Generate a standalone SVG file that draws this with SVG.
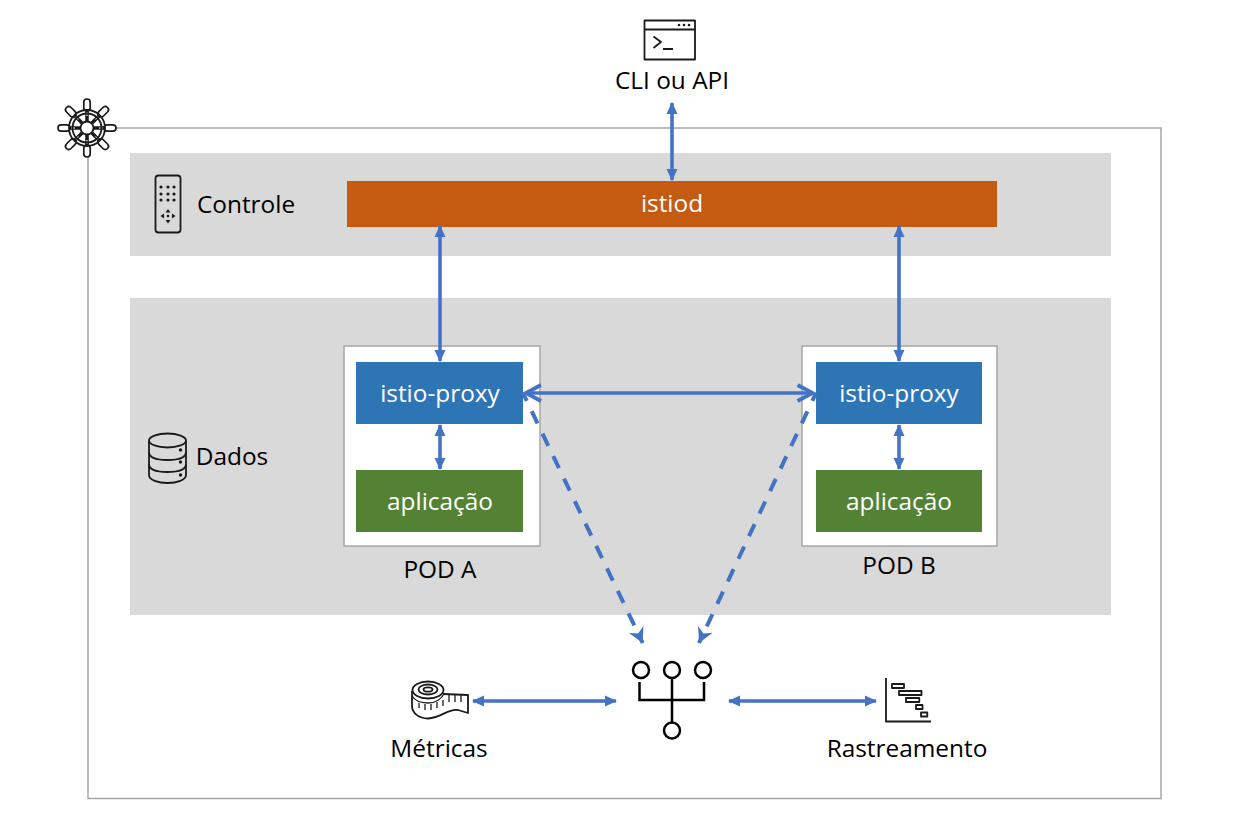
<svg xmlns="http://www.w3.org/2000/svg" width="1239" height="813" viewBox="0 0 1239 813">
<style>
text{font-family:"Open Sans","Noto Sans","Liberation Sans",sans-serif;font-size:24.400px;fill:#000;text-anchor:middle}
.w{fill:#fff}
.c{fill:none;stroke:#4472c4;stroke-width:3.600}
.d{stroke-width:4;stroke-dasharray:13.400 11.500;stroke-dashoffset:4.700}
.i{fill:none;stroke:#1a1a1a;stroke-width:1.800;stroke-linejoin:round}
.k{fill:#1a1a1a}
</style>
<defs>
<marker id="a" markerUnits="userSpaceOnUse" markerWidth="12" markerHeight="12" refX="11" refY="6" orient="auto-start-reverse"><path d="M0 .5L12 6L0 11.500z" fill="#4472c4"/></marker>
<marker id="o" markerUnits="userSpaceOnUse" markerWidth="24" markerHeight="24" refX="17" refY="12" orient="auto-start-reverse"><path d="M2 4L17 12L2 20" fill="none" stroke="#4472c4" stroke-width="3.800"/></marker>
<marker id="s" markerUnits="userSpaceOnUse" markerWidth="16" markerHeight="16" refX="15" refY="8" orient="auto"><path d="M0 0L15 8L0 16L4.500 8z" fill="#4472c4"/></marker>
<g id="spoke"><path d="M0 -7V-18" stroke="#1a1a1a" stroke-width="3.500"/><path d="M0 -12V-16" stroke="#fff" stroke-width="1"/><rect x="-3.200" y="-29" width="6.400" height="12" rx="3.200" fill="#fff" stroke="#1a1a1a" stroke-width="1.700"/></g>
</defs>
<rect width="1239" height="813" fill="#fff"/>
<rect id="cluster" x="88" y="128" width="1073" height="670.500" fill="#fff" stroke="#a6a6a6" stroke-width="1.500"/>
<g id="plane-controle">
<rect x="130" y="153" width="981" height="103" fill="#d9d9d9"/>
<rect x="155.500" y="175.500" width="25" height="57" rx="3" fill="none" stroke="#1a1a1a" stroke-width="1.800"/>
<g class="k"><circle cx="161" cy="187" r="1.600"/><circle cx="168" cy="187" r="1.600"/><circle cx="174" cy="187" r="1.600"/><circle cx="161" cy="194" r="1.600"/><circle cx="168" cy="194" r="1.600"/><circle cx="174" cy="194" r="1.600"/><circle cx="161" cy="200" r="1.600"/><circle cx="168" cy="200" r="1.600"/><circle cx="174" cy="200" r="1.600"/>
<path d="M168 209l2.500 3.500h-5zM168 223.500l2.500-3.500h-5zM160.500 216l3.500-2.500v5zM175.500 216l-3.500-2.500v5z"/><circle cx="168" cy="216" r="1.300"/></g>
<text x="246" y="213">Controle</text>
</g>
<g id="plane-dados">
<rect x="130" y="298" width="981" height="317" fill="#d9d9d9"/>
<g class="i"><path d="M149 441V475C149 480 158 483 167.500 483S186 480 186 475V441"/><ellipse cx="167.500" cy="440.500" rx="18.500" ry="7"/><path d="M149 452C149 458 158 460 167.500 460S186 458 186 452M149 464C149 470 158 472 167.500 472S186 470 186 464"/></g>
<g class="k"><circle cx="180.500" cy="450" r="1.700"/><circle cx="180.500" cy="462" r="1.700"/><circle cx="180.500" cy="475" r="1.700"/></g>
<text x="232" y="465">Dados</text>
</g>
<g id="istiod"><rect x="347" y="181" width="650" height="46" fill="#c55a11"/><text class="w" x="672" y="212">istiod</text></g>
<g id="pod-a"><rect x="344" y="346" width="196" height="200" fill="#fff" stroke="#a6a6a6" stroke-width="1.500"/><text x="440" y="578">POD A</text></g>
<g id="proxy-a"><rect x="356" y="362" width="167" height="62" fill="#2e75b6"/><text class="w" x="440" y="402">istio-proxy</text></g>
<g id="app-a"><rect x="356" y="470" width="167" height="62" fill="#548235"/><text class="w" x="440" y="510">aplicação</text></g>
<g id="pod-b"><rect x="802" y="346" width="195" height="200" fill="#fff" stroke="#a6a6a6" stroke-width="1.500"/><text x="899" y="574">POD B</text></g>
<g id="proxy-b"><rect x="816" y="362" width="166" height="62" fill="#2e75b6"/><text class="w" x="899" y="402">istio-proxy</text></g>
<g id="app-b"><rect x="816" y="470" width="166" height="62" fill="#548235"/><text class="w" x="899" y="510">aplicação</text></g>
<g id="helm" transform="translate(87 128)">
<use href="#spoke"/><use href="#spoke" transform="rotate(45)"/><use href="#spoke" transform="rotate(90)"/><use href="#spoke" transform="rotate(135)"/><use href="#spoke" transform="rotate(180)"/><use href="#spoke" transform="rotate(225)"/><use href="#spoke" transform="rotate(270)"/><use href="#spoke" transform="rotate(315)"/>
<circle r="18" fill="none" stroke="#1a1a1a" stroke-width="1.800"/><circle r="14.500" fill="none" stroke="#1a1a1a" stroke-width="1.800"/>
<circle r="6.500" fill="#fff" stroke="#1a1a1a" stroke-width="1.800"/>
</g>
<g id="cli" class="i"><rect x="644.500" y="20.500" width="50.500" height="39" fill="#fff"/><path d="M644.500 29.500H695M653.500 36.500L661 42L653.500 48M663 49H673"/><g class="k" stroke="none"><circle cx="679" cy="25" r="1.300"/><circle cx="684" cy="25" r="1.300"/><circle cx="689" cy="25" r="1.300"/></g><text x="672" y="89" stroke="none">CLI ou API</text></g>
<g id="collector" fill="none" stroke="#000" stroke-width="2.500">
<circle cx="641" cy="670" r="8"/><circle cx="672" cy="670" r="8"/><circle cx="703" cy="670" r="8"/><circle cx="672" cy="730.500" r="8"/>
<path d="M639.500 682V700H704V682M672 678V722"/>
</g>
<g id="metricas" class="i">
<path d="M443 694L468 695V713L458 710C448 708 442 718 428 718.500C419 718.500 412 713 412 706V691" fill="#fff"/>
<ellipse cx="428" cy="690" rx="15.500" ry="8.500" fill="#fff"/><ellipse cx="428" cy="689.500" rx="9.500" ry="5"/><ellipse cx="428" cy="689.500" rx="4.500" ry="2.200"/>
<path d="M412 696C415 701 422 703 428 703C436 703 441 699 444 694M419 703V708M425 704V710M431 704V710M437 702V708M443 700V706M449 695V702M455 695V702M461 695V702" stroke-width="1.300"/>
<text x="439" y="757" stroke="none">Métricas</text>
</g>
<g id="rastreamento" class="i">
<path d="M886 678V721.500H931"/>
<rect x="892" y="684" width="12" height="4"/><rect x="899" y="691" width="22.500" height="4"/><rect x="906" y="698" width="13.300" height="4"/><rect x="916" y="705" width="6.500" height="4"/><rect x="921" y="712.500" width="6.300" height="4"/>
<text x="907" y="757" stroke="none">Rastreamento</text>
</g>
<g id="connectors">
<path class="c" d="M672 103V180" marker-start="url(#a)" marker-end="url(#a)"/>
<path class="c" d="M440 226V361" marker-start="url(#a)" marker-end="url(#a)"/>
<path class="c" d="M899 226V361" marker-start="url(#a)" marker-end="url(#a)"/>
<path class="c" d="M440 425V469" marker-start="url(#a)" marker-end="url(#a)"/>
<path class="c" d="M899 425V469" marker-start="url(#a)" marker-end="url(#a)"/>
<path class="c" d="M526 393H812.500" marker-start="url(#o)" marker-end="url(#o)"/>
<path class="c d" d="M523 393L642.700 643" marker-end="url(#s)"/>
<path class="c d" d="M816 393L699 643" marker-end="url(#s)"/>
<path class="c" d="M473 701H616" marker-start="url(#a)" marker-end="url(#a)"/>
<path class="c" d="M729 701H876" marker-start="url(#a)" marker-end="url(#a)"/>
</g>
</svg>
